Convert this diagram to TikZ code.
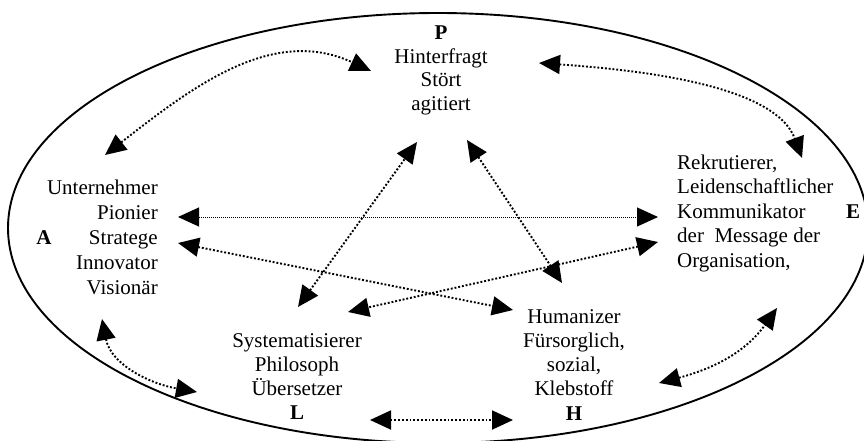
\documentclass[tikz,border=0pt]{standalone}
\usepackage{fontspec}
\setmainfont{Liberation Serif}
\usetikzlibrary{arrows.meta}
\begin{document}
\begin{tikzpicture}[x=1pt,y=-1pt,
  >={Triangle[length=21pt,width=19pt]},
  txt/.style={inner sep=0pt, anchor=base},
  fs/.style={font=\fontsize{21}{#1}\selectfont},
  dotarrow/.style={<->, line width=1.9pt, dash pattern=on 1.9pt off 1.9pt},
  finearrow/.style={<->, line width=1pt, dash pattern=on 1pt off 1pt},
  frame/.style={line width=1.9pt}]
\useasboundingbox (0,0) rectangle (864,441);
\clip (0,0) rectangle (864,441);
% outer ellipse
\draw[frame] (438,228) ellipse [x radius=430, y radius=215];
% text blocks
\node[txt, fs=23.5] (P) at (441,40) {\begin{tabular}[t]{@{}c@{}}\textbf{P}\\Hinterfragt\\Stört\\agitiert\end{tabular}};
\node[txt, fs=25, anchor=base east] (A) at (158,194) {\begin{tabular}[t]{@{}r@{}}Unternehmer\\Pionier\\Stratege\\Innovator\\Visionär\end{tabular}};
\node[txt, fs=25] (Alab) at (44,244) {\textbf{A}};
\node[txt, fs=24.5, anchor=base west] (E) at (677,169) {\begin{tabular}[t]{@{}l@{}}Rekrutierer,\\Leidenschaftlicher\\Kommunikator\\der\ \ Message der\\Organisation,\end{tabular}};
\node[txt, fs=24.5] (Elab) at (853,218) {\textbf{E}};
\node[txt, fs=24.33] (L) at (297,347) {\begin{tabular}[t]{@{}c@{}}Systematisierer\\Philosoph\\Übersetzer\\\textbf{L}\end{tabular}};
\node[txt, fs=24.25] (H) at (574,323) {\begin{tabular}[t]{@{}c@{}}Humanizer\\Fürsorglich,\\sozial,\\Klebstoff\\\textbf{H}\end{tabular}};
% connector end points
\coordinate (pa1) at (371,71);  \coordinate (ap1) at (105,155);
\coordinate (pe1) at (539,63);  \coordinate (ep1) at (802,158);
\coordinate (ae1) at (178,217); \coordinate (ea1) at (658,217);
\coordinate (lp1) at (298,307); \coordinate (pl1) at (417,142);
\coordinate (ph1) at (467,140); \coordinate (hp1) at (562,283);
\coordinate (ah1) at (178,243); \coordinate (ha1) at (513,310);
\coordinate (el1) at (658,242); \coordinate (le1) at (348,312);
\coordinate (al1) at (102,319); \coordinate (la1) at (197,392);
\coordinate (lh1) at (370,420); \coordinate (hl1) at (513,420);
\coordinate (he1) at (659,383); \coordinate (eh1) at (777,308);
% connectors
\draw[dotarrow] (ap1) .. controls (191,88) and (272,25) .. (pa1);
\draw[dotarrow] (pe1) .. controls (640,70) and (775,85) .. (ep1);
\draw[finearrow] (ae1) -- (ea1);
\draw[dotarrow] (lp1) -- (pl1);
\draw[dotarrow] (ph1) -- (hp1);
\draw[dotarrow] (ah1) -- (ha1);
\draw[dotarrow] (el1) -- (le1);
\draw[dotarrow] (al1) .. controls (111,365) and (151,384) .. (la1);
\draw[dotarrow] (lh1) -- (hl1);
\draw[dotarrow] (he1) .. controls (712,369) and (745,353) .. (eh1);
\end{tikzpicture}
\end{document}
